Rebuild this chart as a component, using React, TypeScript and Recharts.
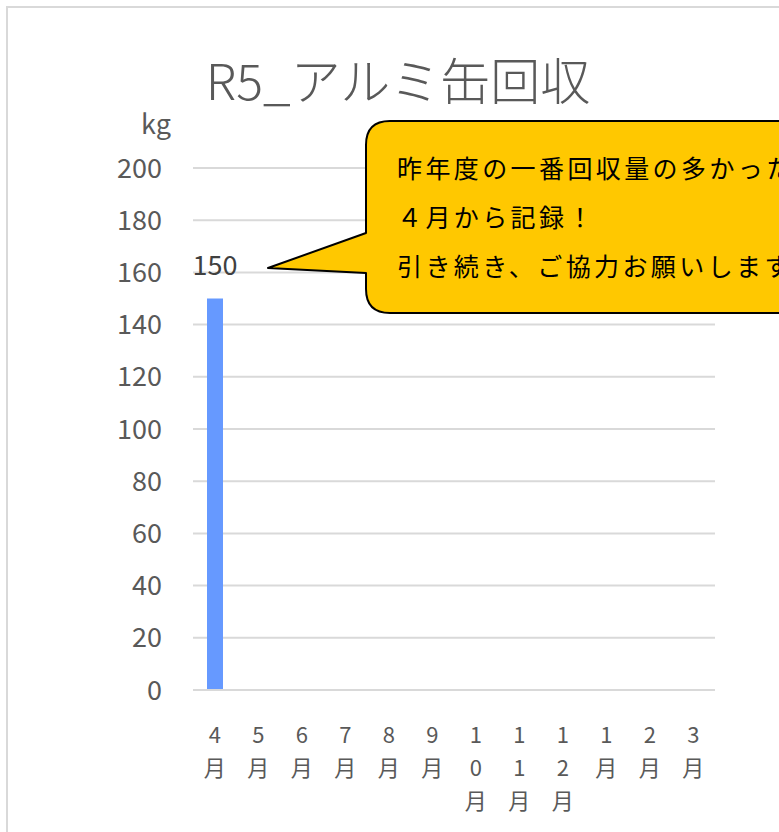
import { BarChart, Bar, XAxis, YAxis, CartesianGrid, LabelList } from "recharts"

const months = ["4月", "5月", "6月", "7月", "8月", "9月", "10月", "11月", "12月", "1月", "2月", "3月"]
const amounts: (number | null)[] = [150, null, null, null, null, null, null, null, null, null, null, null]
const yTicks = [0, 20, 40, 60, 80, 100, 120, 140, 160, 180, 200]
const calloutLines = ["昨年度の一番回収量の多かった", "４月から記録！", "引き続き、ご協力お願いします"]

const data = months.map((m, i) => ({ month: m, kg: amounts[i] }))

const FONT = "'Noto Sans CJK JP', 'Noto Sans', sans-serif"

// month labels stacked one character per row
const MonthTick = ({ x, y, payload }: any) => {
  const chars = String(payload.value).split("")
  return (
    <text x={x} y={y + 43} textAnchor="middle" dominantBaseline="central" fontSize={22} fill="#595959" fontFamily={FONT}>
      {chars.map((c, i) => (
        <tspan key={i} x={x} dy={i === 0 ? 0 : 33}>
          {c}
        </tspan>
      ))}
    </text>
  )
}

export default function App() {
  return (
    <div
      style={{
        position: "fixed",
        left: 0,
        top: 0,
        width: 779,
        height: 832,
        overflow: "hidden",
        background: "#fff",
      }}
    >
      <div
        style={{
          position: "absolute",
          left: 6,
          top: 6,
          width: 900,
          height: 900,
          border: "2px solid #d9d9d9",
        }}
      />
      <div style={{ position: "absolute", left: 0, top: 0 }}>
        <BarChart width={779} height={832} data={data} margin={{ top: 168, right: 64, left: 0, bottom: 0 }}>
          <CartesianGrid vertical={false} stroke="#d9d9d9" strokeWidth={2} />
          <XAxis
            dataKey="month"
            height={142}
            tickLine={false}
            tickSize={0}
            tickMargin={0}
            axisLine={{ stroke: "#d9d9d9", strokeWidth: 2 }}
            tick={<MonthTick />}
            interval={0}
          />
          <YAxis
            width={193}
            domain={[0, 200]}
            ticks={yTicks}
            axisLine={false}
            tickLine={false}
            tickSize={0}
            tickMargin={31}
            tick={{ fontSize: 27, fill: "#595959", fontFamily: FONT }}
          />
          <Bar dataKey="kg" fill="#6699ff" barSize={16} isAnimationActive={false}>
            <LabelList
              dataKey="kg"
              position="top"
              offset={24}
              fontSize={27}
              fill="#404040"
              fontFamily={FONT}
            />
          </Bar>
        </BarChart>
      </div>
      <svg width={779} height={832} style={{ position: "absolute", left: 0, top: 0, pointerEvents: "none" }}>
        <text x={398} y={78} textAnchor="middle" dominantBaseline="central" fontSize={50} fill="#595959" fontFamily={FONT} fontWeight={300}>
          R5_アルミ缶回収
        </text>
        <text x={156} y={122} textAnchor="middle" dominantBaseline="central" fontSize={27} fill="#595959" fontFamily={FONT}>
          kg
        </text>
        <path
          d="M 390 121 H 820 V 313 H 390 Q 366 313 366 289 V 273 L 268 268 L 366 233 V 145 Q 366 121 390 121 Z"
          fill="#ffc800"
          stroke="#000"
          strokeWidth={2}
          strokeLinejoin="round"
        />
        {calloutLines.map((line, i) => (
          <text
            key={i}
            x={397}
            y={167 + i * 49}
            dominantBaseline="central"
            fontSize={25}
            letterSpacing={3.4}
            fill="#000"
            fontFamily={FONT}
          >
            {line}
          </text>
        ))}
      </svg>
    </div>
  )
}
